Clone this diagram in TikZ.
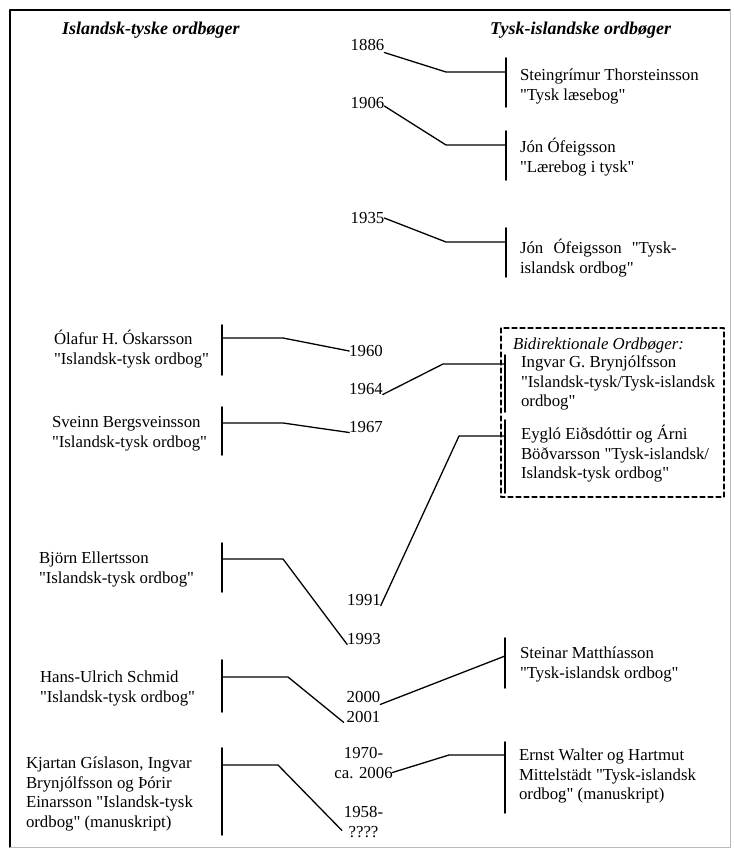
\documentclass[tikz,border=0pt]{standalone}
\usepackage{fontspec}
\setmainfont{Liberation Serif}[Ligatures=TeXOff]
\newcommand{\st}{\rule{0pt}{16bp}}
\begin{document}
\begin{tikzpicture}[x=1bp,y=-1bp,line join=round,line cap=round,
    font=\fontsize{16.8bp}{19.7bp}\selectfont,
    year/.style={inner sep=0pt,outer sep=0pt,anchor=base},
    years/.style={inner sep=0pt,outer sep=0pt,anchor=north,align=center},
    entry/.style={inner sep=0pt,outer sep=0pt,anchor=north west,align=left},
    head/.style={inner sep=0pt,anchor=base west,font=\fontsize{18bp}{20bp}\selectfont\bfseries\itshape},
    link/.style={line width=1.3bp},
    bar/.style={line width=1.6bp}]
    \useasboundingbox (0,0) rectangle (734,857);
    % Rahmen
    \draw[line width=2bp] (730,10) -- (10,10) -- (10,847);
    \draw[gray!55,line width=1bp] (10,847) -- (730,847) -- (730,10);
    \node[head] (headL) at (62,34) {Islandsk-tyske ordbøger};
    \node[head] (headR) at (490,34) {Tysk-islandske ordbøger};
    % Jahreszahlen
    \node[year] (y1886) at (367.5,50.5) {1886};
    \node[year] (y1906) at (367.5,108.5) {1906};
    \node[year] (y1935) at (367.5,223.5) {1935};
    \node[year] (y1960) at (366,356.5) {1960};
    \node[year] (y1964) at (366,394.5) {1964};
    \node[year] (y1967) at (366,432.5) {1967};
    \node[year] (y1991) at (364,605.5) {1991};
    \node[year] (y1993) at (364,644.5) {1993};
    \node[years] (y2000) at (363.5,686.5) {\st 2000\\2001};
    \node[years] (y2006) at (363.5,742.5) {\st 1970-\\ca. 2006};
    \node[years] (y1958) at (363.5,801.5) {\st 1958-\\????};
    % Tysk-islandske
    \node[entry] (steingrimur) at (520,64.5) {\st Steingrímur Thorsteinsson\\"Tysk læsebog"};
    \node[entry] (jonA) at (520,136.5) {\st Jón Ófeigsson\\"Lærebog i tysk"};
    \node[entry] (jonB) at (520,237.5) {\st Jón\hspace{6bp} Ófeigsson\hspace{6bp} "Tysk-\\islandsk ordbog"};
    \node[entry] (bidir) at (513,333.5) {\st\itshape Bidirektionale Ordbøger:};
    \node[entry] (ingvar) at (521,351.5) {\st Ingvar G. Brynjólfsson\\"Islandsk-tysk/Tysk-islandsk\\ordbog"};
    \node[entry] (eyglo) at (521,423.5) {\st Eygló Eiðsdóttir og Árni\\Böðvarsson "Tysk-islandsk/\\Islandsk-tysk ordbog"};
    \node[entry] (steinar) at (520,642.5) {\st Steinar Matthíasson\\"Tysk-islandsk ordbog"};
    \node[entry] (walter) at (519,744.5) {\st Ernst Walter og Hartmut\\Mittelstädt "Tysk-islandsk\\ordbog" (manuskript)};
    % Islandsk-tyske
    \node[entry] (olafur) at (54,328.5) {\st Ólafur H. Óskarsson\\"Islandsk-tysk ordbog"};
    \node[entry] (sveinn) at (52,411.5) {\st Sveinn Bergsveinsson\\"Islandsk-tysk ordbog"};
    \node[entry] (bjorn) at (39,547.5) {\st Björn Ellertsson\\"Islandsk-tysk ordbog"};
    \node[entry] (hans) at (40,666.5) {\st Hans-Ulrich Schmid\\"Islandsk-tysk ordbog"};
    \node[entry] (kjartan) at (26,752.5) {\st Kjartan Gíslason, Ingvar\\Brynjólfsson og Þórir\\Einarsson "Islandsk-tysk\\ordbog" (manuskript)};
    \draw[dash pattern=on 5bp off 3bp,line width=1.2bp] (501,328) rectangle (724,497);
    % Klammern
    \foreach \x/\a/\b in {506/58/107,506/131/180,506/228/277,505/355/412,505/420/493,505/638/688,505/742/813,
                          222/325/375,222/407/455,222/543/592,222/660/712,222/748/835}
        \draw[bar] (\x,\a) -- (\x,\b);
    \coordinate (j1886) at (506,72);
    \coordinate (j1906) at (506,145);
    \coordinate (j1935) at (506,242);
    \coordinate (j1964) at (505,364);
    \coordinate (j1991) at (505,436);
    \coordinate (j2000) at (505,656);
    \coordinate (j2006) at (505,755);
    \coordinate (jolafur) at (222,338);
    \coordinate (jsveinn) at (222,423);
    \coordinate (jbjorn) at (222,559);
    \coordinate (jhans) at (222,677);
    \coordinate (jkjartan) at (222,765);
    % Verbindungen
    \draw[link] ([yshift=-2bp]y1886.base east) -- ([xshift=-60bp]j1886) -- (j1886);
    \draw[link] ([yshift=-3bp]y1906.east) -- ([xshift=-60bp]j1906) -- (j1906);
    \draw[link] (y1935.east) -- ([xshift=-60bp]j1935) -- (j1935);
    \draw[link] (y1964.base east) -- ([xshift=-62bp]j1964) -- (j1964);
    \draw[link] (y1991.base east) -- ([xshift=-46bp]j1991) -- (j1991);
    \draw[link] (y2000.east) -- (j2000);
    \draw[link] ([yshift=6bp]y2006.south east) -- ([xshift=-56bp]j2006) -- (j2006);
    \draw[link] (jolafur) -- ([xshift=61bp]jolafur) -- (y1960.west);
    \draw[link] (jsveinn) -- ([xshift=61bp]jsveinn) -- (y1967.base west);
    \draw[link] (jbjorn) -- ([xshift=61bp]jbjorn) -- (y1993.base west);
    \draw[link] (jhans) -- ([xshift=66bp]jhans) -- ([xshift=-3bp]y2000.south west);
    \draw[link] (jkjartan) -- ([xshift=56bp]jkjartan) -- ([xshift=-2bp,yshift=7bp]y1958.south west);
\end{tikzpicture}
\end{document}
